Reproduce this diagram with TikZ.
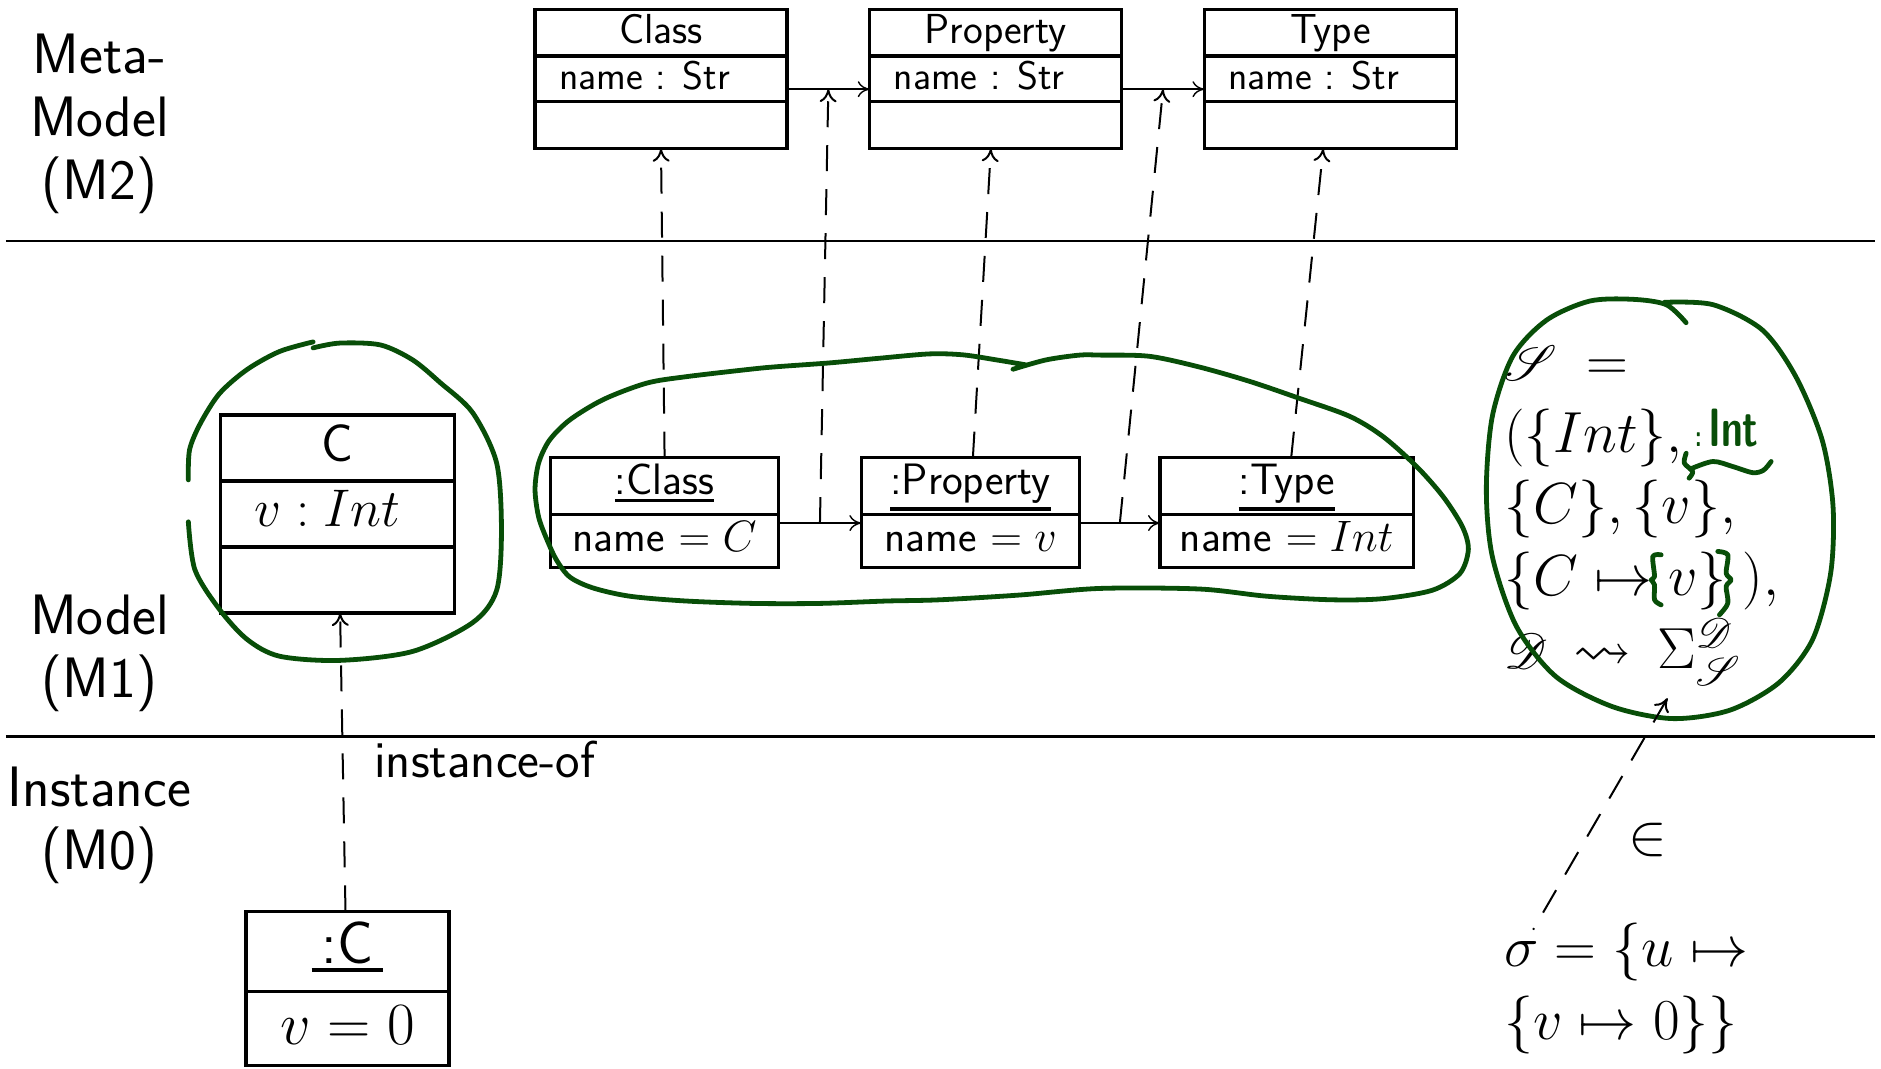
\RequirePackage{fix-cm}
\documentclass[tikz,border=0pt]{standalone}
\usepackage{amssymb}
\usepackage{mathrsfs}
\usepackage{graphicx}
\usetikzlibrary{arrows.meta}
\definecolor{hgreen}{RGB}{8,78,8}
\newcommand{\fsz}[2]{\fontsize{#1}{#2}\selectfont}
% underline with a fixed rule: #1 gap below the depth, #2 thickness, #3 text
\newcommand{\uln}[3]{\setbox0=\hbox{#3}\dimen0=\dp0\advance\dimen0 by #1\advance\dimen0 by #2%
  \rlap{\rule[-\dimen0]{\wd0}{#2}}\box0}

\begin{document}
\begin{tikzpicture}[x=0.6pt,y=-0.6pt,
  every node/.style={inner sep=0pt,outer sep=0pt},
  cell/.style={draw,line width=1.6pt,anchor=north west,minimum width=#1},
  lvl/.style={font=\fsz{28.5}{31.5}\sffamily,align=center,anchor=north},
  mtxt/.style={font=\fsz{21}{25}\sffamily,anchor=base},
  ftxt/.style={font=\fsz{20}{24}\sffamily,anchor=base west},
  otxt/.style={font=\fsz{22}{26}\sffamily,anchor=base},
  ctxt/.style={font=\fsz{26.5}{30}\sffamily,anchor=base},
  itxt/.style={font=\fsz{30}{34}\sffamily,anchor=base},
  mth/.style={font=\fsz{29}{36},anchor=base west},
  sep/.style={line width=1.1pt},
  assoc/.style={line width=0.7pt,-{Computer Modern Rightarrow[length=6pt,width=8pt]}},
  instline/.style={line width=1pt,dash pattern=on 13pt off 9pt},
  inst/.style={instline,-{Computer Modern Rightarrow[length=6.5pt,width=8.5pt]}},
  instrev/.style={instline,{Computer Modern Rightarrow[length=6.5pt,width=8.5pt]}-},
  hand/.style={draw=hgreen,line width=2.4pt,line cap=round,line join=round},
]
\useasboundingbox (0,0) rectangle (1568,891);

% level labels and separators
\node[lvl] (lab-m2) at (83,28) {Meta-\\Model\\(M2)};
\node[lvl] (lab-m1) at (83,496) {Model\\(M1)};
\node[lvl] (lab-m0) at (83,639) {Instance\\(M0)};
\draw[sep] (5,201) -- (1563,201);
\draw[sep] (5,614) -- (1563,614);

% meta-model classes
\node[cell=126pt,minimum height=23.2pt] (cls-t) at (446,8) {};
\node[cell=126pt,minimum height=22.8pt] (cls-a) at (446,46.67) {};
\node[cell=126pt,minimum height=23.6pt] (cls-o) at (446,84.67) {};
\node[mtxt] (cls-n) at (551,36.5) {Class};
\node[ftxt] (cls-f) at (466,75) {name : Str};

\node[cell=126pt,minimum height=23.2pt] (prp-t) at (725,8) {};
\node[cell=126pt,minimum height=22.8pt] (prp-a) at (725,46.67) {};
\node[cell=126pt,minimum height=23.6pt] (prp-o) at (725,84.67) {};
\node[mtxt] (prp-n) at (830,36.5) {Property};
\node[ftxt] (prp-f) at (745,75) {name : Str};

\node[cell=126pt,minimum height=23.2pt] (typ-t) at (1004,8) {};
\node[cell=126pt,minimum height=22.8pt] (typ-a) at (1004,46.67) {};
\node[cell=126pt,minimum height=23.6pt] (typ-o) at (1004,84.67) {};
\node[mtxt] (typ-n) at (1109,36.5) {Type};
\node[ftxt] (typ-f) at (1024,75) {name : Str};

% model objects
\node[cell=114pt,minimum height=28.56pt] (ocls-t) at (459,381.4) {};
\node[cell=114pt,minimum height=26.4pt] (ocls-a) at (459,429) {};
\node[otxt] (ocls-n) at (554,412.5) {\uln{1.8pt}{1.6pt}{:Class}};
\node[otxt] (ocls-f) at (554,459.7) {name $= C$};

\node[cell=109.2pt,minimum height=28.56pt] (oprp-t) at (718,381.4) {};
\node[cell=109.2pt,minimum height=26.4pt] (oprp-a) at (718,429) {};
\node[otxt] (oprp-n) at (809,412.5) {\uln{1.8pt}{1.6pt}{:Property}};
\node[otxt] (oprp-f) at (809,459.7) {name $= v$};

\node[cell=126.6pt,minimum height=28.56pt] (otyp-t) at (967,381.4) {};
\node[cell=126.6pt,minimum height=26.4pt] (otyp-a) at (967,429) {};
\node[otxt] (otyp-n) at (1072.5,412.5) {\uln{1.8pt}{1.6pt}{:Type}};
\node[otxt] (otyp-f) at (1072.5,459.7) {name $= Int$};

% class C
\node[cell=117pt,minimum height=33pt] (c-t) at (184,346) {};
\node[cell=117pt,minimum height=33pt] (c-a) at (184,401) {};
\node[cell=117pt,minimum height=33pt] (c-o) at (184,456) {};
\node[ctxt] (c-n) at (281.5,384.7) {C};
\node[ctxt,anchor=base west] (c-f) at (212,439) {$v : Int$};

% instance of C
\node[cell=101.6pt,minimum height=40.2pt] (oc-t) at (205,759.7) {};
\node[cell=101.6pt,minimum height=36.8pt] (oc-a) at (205,826.7) {};
\node[itxt] (oc-n) at (289.7,802.8) {\uln{2.2pt}{2pt}{\hspace{5pt}:C\hspace{5pt}}};
\node[itxt] (oc-f) at (289.7,870.8) {$v = 0$};

% associations
\draw[assoc] ([yshift=-5.2pt]cls-a.east) -- ([yshift=-5.2pt]prp-a.west) coordinate[midway] (cp-mid);
\draw[assoc] ([yshift=-5.2pt]prp-a.east) -- ([yshift=-5.2pt]typ-a.west) coordinate[midway] (pt-mid);
\draw[assoc] ([yshift=9pt]ocls-a.east) -- ([yshift=9pt]oprp-a.west) coordinate[midway] (ocp-mid);
\draw[assoc] ([yshift=9pt]oprp-a.east) -- ([yshift=9pt]otyp-a.west) coordinate[midway] (opt-mid);

% instance-of links
\draw[inst] (ocls-t.north) -- (cls-o.south);
\draw[inst] (ocp-mid) -- (cp-mid);
\draw[inst] ([xshift=1.2pt]oprp-t.north) -- ([xshift=-2.4pt]prp-o.south);
\draw[inst] (opt-mid) -- (pt-mid);
\draw[inst] ([xshift=2.3pt]otyp-t.north) -- ([xshift=-3.6pt]typ-o.south);
\draw[inst] ([xshift=-1pt]oc-t.north) -- ([xshift=1.2pt]c-o.south);
\node[font=\fsz{26}{32}\sffamily,anchor=base west] (io) at (312,648) {instance-of};

% signature and system state
\node[mth] (ms1) at (1254,317) {$\mathscr{S}\mskip4mu=$};
\node[mth] (ms2) at (1254,377) {$(\{Int\},$};
\node[mth] (ms3) at (1254,436) {$\{C\},\{v\},$};
\node[mth] (ms4) at (1254,496) {$\{C\mapsto v\}\mskip5mu),$};
\node[mth] (ms5) at (1254,557) {$\mathscr{D}\mskip3mu\leadsto\mskip3mu\Sigma_{\mathscr{S}}^{\mathscr{D}}$};
\node[font=\fsz{29}{36}] (elem) at (1373.5,700) {$\in$};
\node[mth] (sg1) at (1254,805.6) {$\sigma=\{u\mapsto$};
\node[mth] (sg2) at (1254,866.7) {$\{v\mapsto 0\}\}$};

% handwritten annotations
\draw[hand] plot[smooth] coordinates {(261,285) (233,293) (206,308) (183,328) (167,353) (158,375) (157,400)};
\draw[hand] plot[smooth] coordinates {(157,435) (162.5,475) (183,508) (206,533) (233,547) (283,550.5) (344,543) (394,519) (414,492) (418,442) (414,386) (394,344) (367,319) (344,300) (317,287.5) (283,286) (261,290)};

\draw[hand] plot[smooth] coordinates {(855.6,304.2) (830.6,300) (802.8,295.8) (775,295) (733.3,298.6) (691.7,302.5) (650,305.5) (628,307.5) (572,314) (539,319.4) (503,333) (475,350) (458,367) (449,386) (446,408) (449,431) (456,450) (464,467) (475,481) (494,490) (525,497) (572,501) (628,503) (683,503) (739,501) (783,500) (850,496) (917,490.5) (1000,491) (1056,497) (1111,500) (1153,499) (1194,492) (1217,478) (1224,458) (1219,439) (1203,414) (1181,389) (1153,364) (1125,347) (1083,332) (1042,318) (1000,306) (958,297) (917,296) (900,296) (872,300) (844.4,307.8)};

\draw[hand] plot[smooth] coordinates {(1387.5,252) (1428,254) (1469,275) (1497,314) (1519,367) (1528,422) (1526,478) (1511,533) (1483,569) (1442,592) (1394,599) (1344,589) (1297,564) (1264,522) (1244,464) (1239,408) (1244,347) (1261,297) (1289,267) (1325,251) (1361,249.5) (1389,254) (1405.5,269)};

\node[font=\fsz{27}{27}\sffamily\bfseries,text=hgreen,anchor=base west] (int-note) at (1413,372) {\scalebox{0.72}[1]{{\fsz{15}{15}:}\,Int}};
\draw[hand] plot[smooth] coordinates {(1405.6,377.8) (1404,386) (1411,393) (1408,398.6)};
\draw[hand] plot[smooth] coordinates {(1409,391) (1427.8,384.7) (1444.4,388.9) (1461,394) (1470,392) (1476.4,384.7)};
\draw[hand] plot[smooth] coordinates {(1384.7,462.5) (1377.8,463.9) (1379.2,480.6) (1376.4,483.3) (1379.2,487.5) (1379.2,500) (1384.7,504.2)};
\draw[hand] plot[smooth] coordinates {(1431.9,459.7) (1440.3,462.5) (1438.9,477.8) (1443,483.3) (1438.9,488.9) (1440.3,502.8) (1433.3,512.5)};

% membership of the state in the semantic domain (dashes start at the tip)
\coordinate (sg-tail) at (1278,775);
\coordinate (ms-head) at (1390,582);
\draw[instrev] (ms-head) -- (sg-tail);
\end{tikzpicture}
\end{document}
